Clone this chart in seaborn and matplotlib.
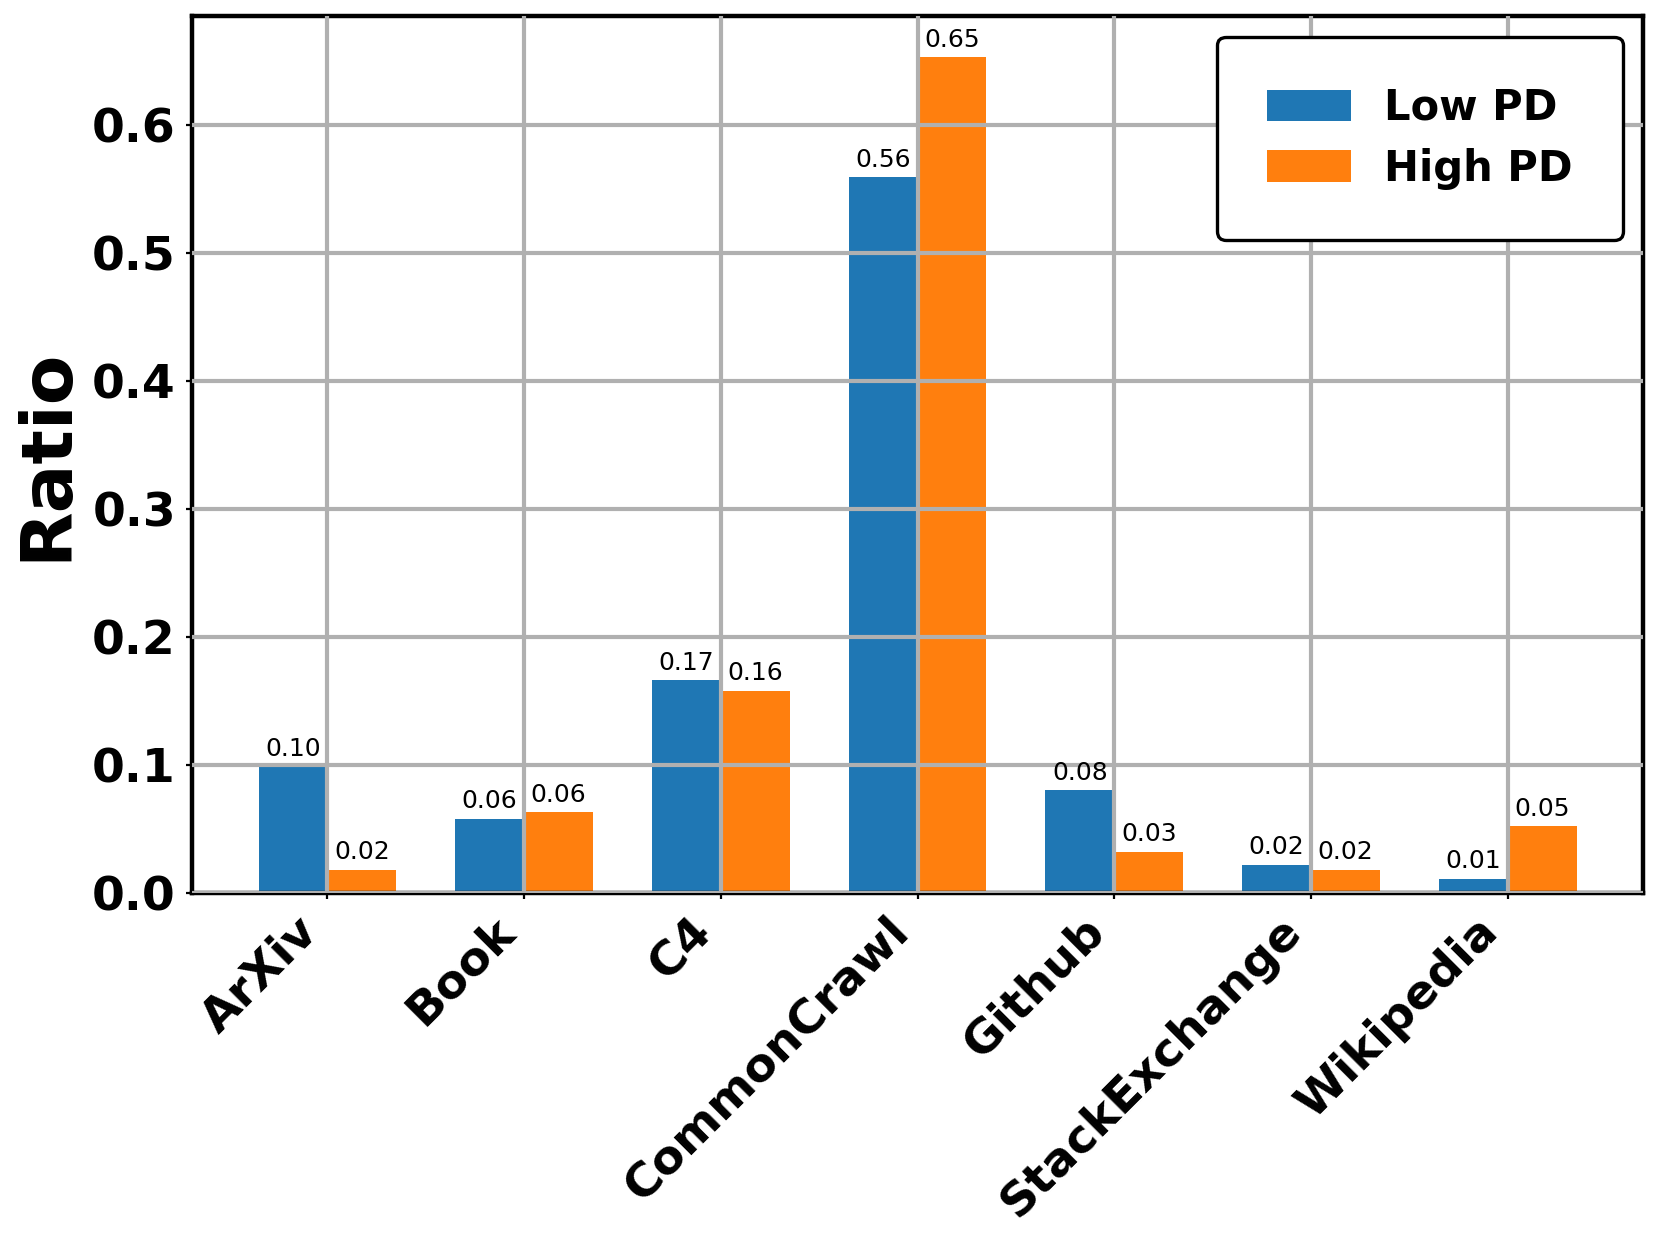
import pandas as pd
import matplotlib
matplotlib.use('Agg')
import matplotlib.pyplot as plt
import seaborn as sns

# data
sources = ['ArXiv', 'Book', 'C4', 'CommonCrawl', 'Github', 'StackExchange', 'Wikipedia']
low_pd = [0.099, 0.058, 0.166, 0.559, 0.080, 0.022, 0.011]
high_pd = [0.018, 0.063, 0.158, 0.653, 0.032, 0.018, 0.052]
groups = ['Low PD', 'High PD']

df = pd.DataFrame({
    'source': sources * 2,
    'ratio': low_pd + high_pd,
    'group': [groups[0]] * len(sources) + [groups[1]] * len(sources),
})

fig = plt.figure(figsize=(8.3, 6.2), dpi=200)
ax = fig.add_axes([0.1155, 0.28, 0.8745, 0.707])

sns.barplot(data=df, x='source', y='ratio', hue='group', order=sources,
            hue_order=groups, palette=['#1f77b4', '#ff7f0e'], width=0.7,
            gap=0, errorbar=None, saturation=1, ax=ax)

for c in ax.containers:
    ax.bar_label(c, fmt='%.2f', padding=2, fontsize=9)

ax.grid(True, color='#b0b0b0', linewidth=1.5)
ax.set_axisbelow(False)
ax.set_ylim(0, 0.685)
ax.set_xlim(-0.69, 6.69)
ax.set_xlabel('')
ax.set_ylabel('Ratio', fontsize=26, fontweight='bold')
ax.tick_params(length=2.2, width=0.8)
plt.setp(ax.get_yticklabels(), fontsize=17, fontweight='bold')
plt.setp(ax.get_xticklabels(), fontsize=17, fontweight='bold', rotation=45, ha='right')
for s in ax.spines.values():
    s.set_linewidth(1.6)

leg = ax.legend(loc='upper right', borderpad=1.2, handlelength=2.0,
                handleheight=0.8, labelspacing=0.45, handletextpad=0.8, borderaxespad=0.5,
                framealpha=1, edgecolor='black', prop={'weight': 'bold', 'size': 15})
leg.get_frame().set_linewidth(1.2)

fig.savefig('out.png', dpi=200)
